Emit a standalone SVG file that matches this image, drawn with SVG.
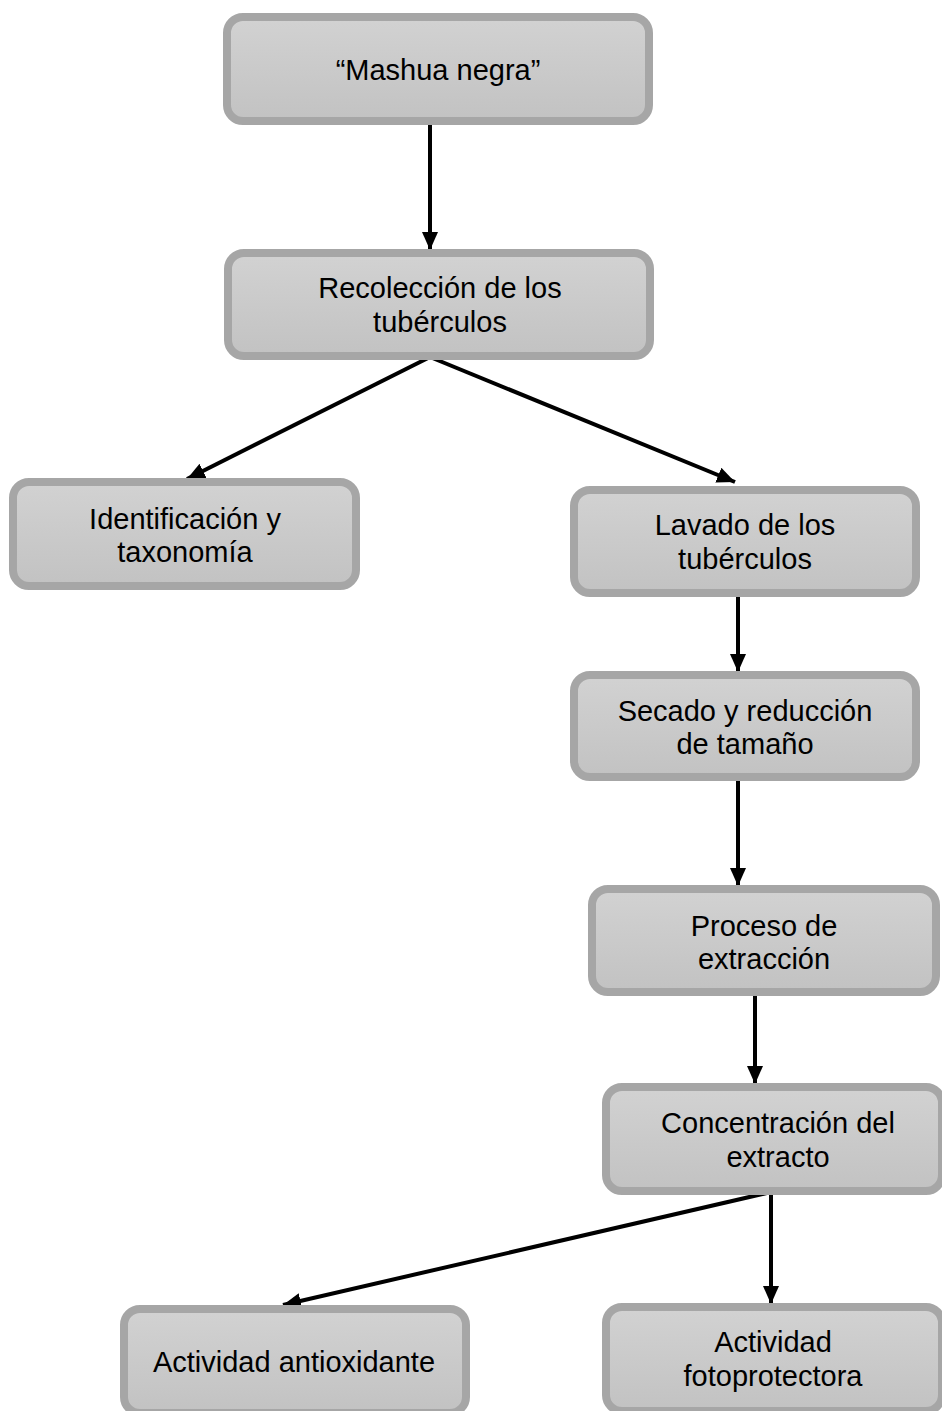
<svg xmlns="http://www.w3.org/2000/svg" width="942" height="1411" viewBox="0 0 942 1411">
<defs>
<linearGradient id="g" x1="0" y1="0" x2="0" y2="1">
<stop offset="0" stop-color="#d2d2d2"/>
<stop offset="1" stop-color="#c2c2c2"/>
</linearGradient>
<marker id="ah" viewBox="0 0 18 16" refX="18" refY="8" markerWidth="18" markerHeight="16" orient="auto" markerUnits="userSpaceOnUse">
<path d="M0,0 L18,8 L0,16 Z" fill="#000"/>
</marker>
</defs>
<style>
.box{fill:url(#g);stroke:#a6a6a6;stroke-width:8}
.t{font-family:"Liberation Sans",Arial,sans-serif;font-size:29px;fill:#000;text-anchor:middle}
.c{stroke:#000;stroke-width:4;fill:none;marker-end:url(#ah)}
</style>
<g id="connectors">
<line class="c" x1="430" y1="125" x2="430" y2="250"/>
<line class="c" x1="430" y1="357" x2="187" y2="479"/>
<line class="c" x1="430" y1="357" x2="735" y2="482"/>
<line class="c" x1="738" y1="597" x2="738" y2="672"/>
<line class="c" x1="738" y1="781" x2="738" y2="886"/>
<line class="c" x1="755" y1="996" x2="755" y2="1084"/>
<line class="c" x1="771" y1="1192" x2="283" y2="1305"/>
<line class="c" x1="771" y1="1192" x2="771" y2="1304"/>
</g>
<g id="n1"><rect class="box" x="227" y="17" width="422" height="104" rx="16"/><text class="t" x="438" y="80">“Mashua negra”</text></g>
<g id="n2"><rect class="box" x="228" y="253" width="422" height="103" rx="16"/><text class="t" x="440" y="298">Recolección de los</text><text class="t" x="440" y="332">tubérculos</text></g>
<g id="n3"><rect class="box" x="13" y="482" width="343" height="104" rx="16"/><text class="t" x="185" y="529">Identificación y</text><text class="t" x="185" y="562">taxonomía</text></g>
<g id="n4"><rect class="box" x="574" y="490" width="342" height="103" rx="16"/><text class="t" x="745" y="535">Lavado de los</text><text class="t" x="745" y="569">tubérculos</text></g>
<g id="n5"><rect class="box" x="574" y="675" width="342" height="102" rx="16"/><text class="t" x="745" y="721">Secado y reducción</text><text class="t" x="745" y="754">de tamaño</text></g>
<g id="n6"><rect class="box" x="592" y="889" width="344" height="103" rx="16"/><text class="t" x="764" y="936">Proceso de</text><text class="t" x="764" y="969">extracción</text></g>
<g id="n7"><rect class="box" x="606" y="1087" width="336" height="104" rx="16"/><text class="t" x="778" y="1133">Concentración del</text><text class="t" x="778" y="1167">extracto</text></g>
<g id="n8"><rect class="box" x="124" y="1309" width="342" height="104" rx="16"/><text class="t" x="294" y="1372">Actividad antioxidante</text></g>
<g id="n9"><rect class="box" x="606" y="1307" width="336" height="104" rx="16"/><text class="t" x="773" y="1352">Actividad</text><text class="t" x="773" y="1386">fotoprotectora</text></g>
</svg>
